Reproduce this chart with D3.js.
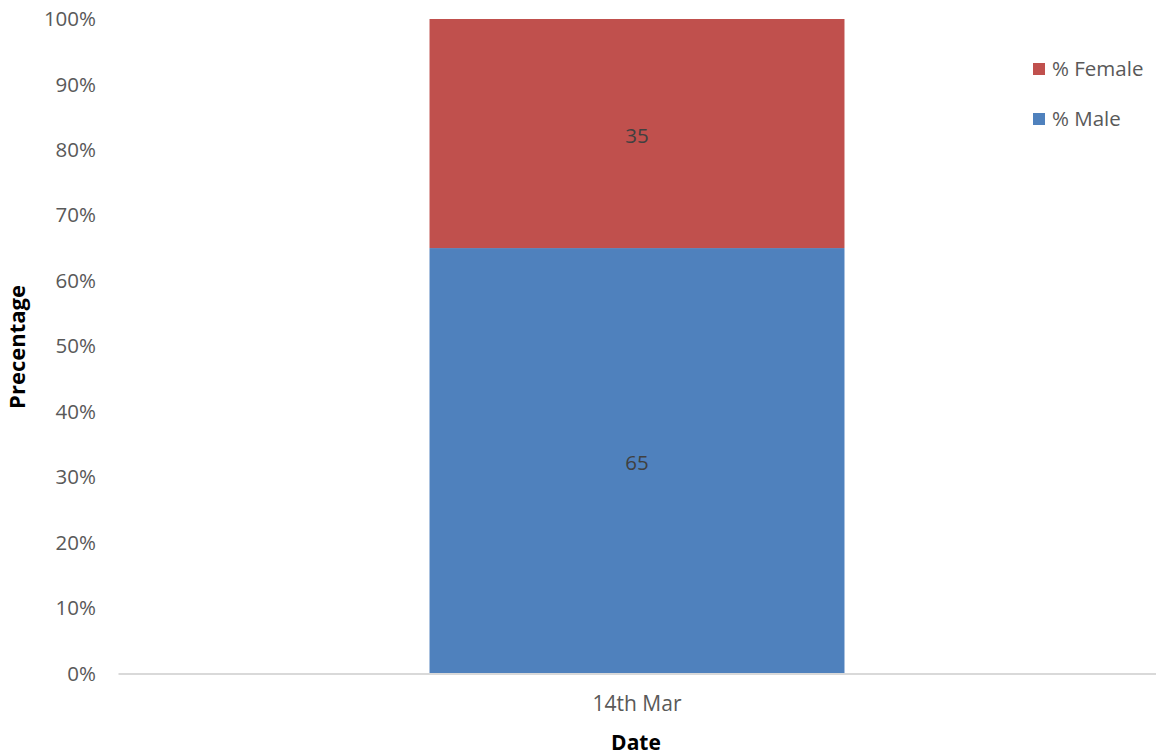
<!DOCTYPE html>
<html>
<head>
<meta charset="utf-8">
<script src="https://cdn.jsdelivr.net/npm/d3@7"></script>
<style>
  html, body { margin: 0; padding: 0; background: #ffffff; }
  svg { display: block; font-family: "Open Sans", "Liberation Sans", sans-serif; }
</style>
</head>
<body>
<svg id="chart" width="1156" height="756"></svg>
<script>
// Stacked 100% column: share of male vs female on one date
const categories = ["14th Mar"];
const seriesNames = ["% Male", "% Female"];
const maleValues = [65];
const femaleValues = [35];
const seriesColors = ["#4f81bd", "#c0504d"];
const yTicks = [0, 10, 20, 30, 40, 50, 60, 70, 80, 90, 100];

const svg = d3.select("#chart");
const margin = { left: 118, right: 0, top: 19, bottom: 82 };
const W = 1156, H = 756;
const labelSize = 20.5;

const x = d3.scaleBand()
  .domain(categories)
  .range([margin.left, W - margin.right])
  .paddingInner(0.4288)
  .paddingOuter(0.4288);

const y = d3.scaleLinear()
  .domain([0, 100])
  .range([H - margin.bottom - 0.5, margin.top]);

const rows = categories.map((c, i) => ({ cat: c, "% Male": maleValues[i], "% Female": femaleValues[i] }));
const stack = d3.stack().keys(seriesNames)(rows);

// bars
svg.append("g").selectAll("g")
  .data(stack)
  .join("g")
  .attr("fill", (d, i) => seriesColors[i])
  .selectAll("rect")
  .data(d => d)
  .join("rect")
  .attr("x", d => x(d.data.cat))
  .attr("width", x.bandwidth())
  .attr("y", d => y(d[1]))
  .attr("height", d => y(d[0]) - y(d[1]));

// value labels
svg.append("g").selectAll("g")
  .data(stack)
  .join("g")
  .selectAll("text")
  .data(d => d.map(v => ({ v, key: d.key })))
  .join("text")
  .attr("x", d => x(d.v.data.cat) + x.bandwidth() / 2)
  .attr("y", d => (y(d.v[0]) + y(d.v[1])) / 2 + 2)
  .attr("dy", "0.35em")
  .attr("text-anchor", "middle")
  .attr("fill", "#404040")
  .attr("font-size", labelSize)
  .text(d => d.v.data[d.key]);

// y axis (labels only)
const yAxis = d3.axisLeft(y)
  .tickValues(yTicks)
  .tickFormat(d => d + "%")
  .tickSize(0)
  .tickPadding(0);
const yg = svg.append("g")
  .attr("transform", `translate(${96},0)`)
  .call(yAxis);
yg.select(".domain").remove();
yg.selectAll("text").attr("fill", "#595959").attr("font-size", labelSize).attr("font-family", "Open Sans, sans-serif");

// x axis
const xAxis = d3.axisBottom(x).tickSize(0).tickPadding(23);
const xg = svg.append("g")
  .attr("transform", `translate(0,${y(0)})`)
  .call(xAxis);
xg.select(".domain").attr("stroke", "#d9d9d9").attr("stroke-width", 2);
xg.selectAll("text").attr("fill", "#595959").attr("font-size", labelSize + 0.5).attr("font-family", "Open Sans, sans-serif");

// axis titles
svg.append("text")
  .attr("x", 636)
  .attr("y", 750)
  .attr("text-anchor", "middle")
  .attr("font-weight", "bold")
  .attr("font-size", 21)
  .attr("fill", "#000")
  .text("Date");

svg.append("text")
  .attr("transform", `translate(25,${347}) rotate(-90)`)
  .attr("text-anchor", "middle")
  .attr("font-weight", "bold")
  .attr("font-size", 22)
  .attr("fill", "#000")
  .text("Precentage");

// legend
const legendItems = [
  { name: "% Female", color: seriesColors[1] },
  { name: "% Male", color: seriesColors[0] }
];
const lg = svg.append("g").selectAll("g")
  .data(legendItems)
  .join("g")
  .attr("transform", (d, i) => `translate(1033,${63 + i * 50})`);
lg.append("rect").attr("width", 12).attr("height", 12).attr("fill", d => d.color);
lg.append("text")
  .attr("x", 19)
  .attr("y", 6)
  .attr("dy", "0.35em")
  .attr("fill", "#595959")
  .attr("font-size", labelSize)
  .text(d => d.name);
</script>
</body>
</html>
